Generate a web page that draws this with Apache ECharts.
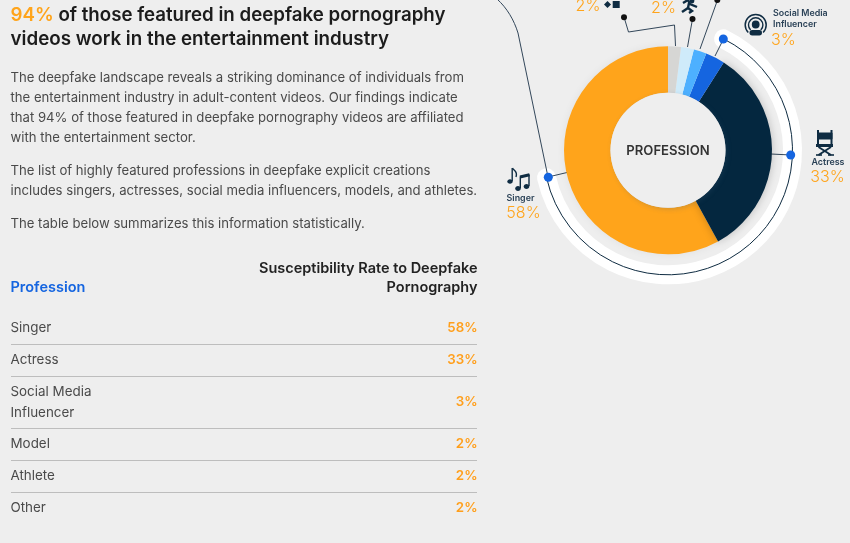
<!DOCTYPE html>
<html><head><meta charset="utf-8">
<style>html,body{margin:0;padding:0;background:#eeeeee}#c{width:850px;height:543px}</style>
<script src="https://cdn.jsdelivr.net/npm/echarts@6/dist/echarts.min.js"></script>
</head><body><div id="c"></div>
<script>
const professions = ['Singer','Actress','Social Media Influencer','Model','Athlete','Other'];
const rates = [58,33,3,2,2,2];
const sliceColors = ['#FFA41B','#04273F','#1565E0','#4DB0FF','#CFEBFA','#D6D6D4'];
const sliceShadow = ['rgba(0,0,0,.06)','rgba(0,0,0,.22)','rgba(0,0,0,0)','rgba(0,0,0,0)','rgba(0,0,0,0)','rgba(0,0,0,0)'];
const tableNames = [['Singer'],['Actress'],['Social Media','Influencer'],['Model'],['Athlete'],['Other']];
const tableY = [328,360,402,444,476,508];
const ruleY = [344,376,428,460,492];
const bodyLines = [
 ['The deepfake landscape reveals a striking dominance of individuals from',78],
 ['the entertainment industry in adult-content videos. Our findings indicate',98],
 ['that 94% of those featured in deepfake pornography videos are affiliated',118],
 ['with the entertainment sector.',138],
 ['The list of highly featured professions in deepfake explicit creations',171],
 ['includes singers, actresses, social media influencers, models, and athletes.',191],
 ['The table below summarizes this information statistically.',224]];
const FONT='Inter';
const ORANGE='#FFA41B', NAVY='#0F2C42', BLUE='#1565E0';
const cx=668, cy=150.3;
const rad=d=>d*Math.PI/180;
function T(x,y,text,size,color,weight,align){return {type:'text',x,y,silent:true,style:{text,fontFamily:FONT,fontSize:size,fill:color,fontWeight:weight||400,align:align||'left',verticalAlign:'middle'}};}
function L(pts,color,w){return {type:'polyline',silent:true,shape:{points:pts},style:{stroke:color||'#33475a',lineWidth:w||1,fill:null}};}
function Dot(x,y,r,c){return {type:'circle',silent:true,shape:{cx:x,cy:y,r},style:{fill:c}};}
function Arc(x,y,r,a,b,w,c,cap){return {type:'arc',silent:true,shape:{cx:x,cy:y,r,startAngle:rad(a),endAngle:rad(b),clockwise:true},style:{stroke:c,lineWidth:w,lineCap:cap||'butt',fill:null}};}
const g=[];
g.push(Arc(cx,cy,124.5,-63.5,167.3,19,'#fff','round'));
g.push(Arc(cx,cy,124.5,-63.5,167.3,1,NAVY));
// text block
g.push({type:'text',x:10.5,y:15,silent:true,style:{text:'{a|94%}{b| of those featured in deepfake pornography}',rich:{a:{fontFamily:FONT,fontSize:18.7,fontWeight:600,fill:ORANGE},b:{fontFamily:FONT,fontSize:18.7,fontWeight:600,fill:'#1c1c1c'}},verticalAlign:'middle'}});
g.push(T(10.5,39,'videos work in the entertainment industry',18.8,'#1c1c1c',600));
bodyLines.forEach(l=>g.push(T(10.5,l[1],l[0],13.15,'#4a4a4a')));
g.push(T(477.5,269,'Susceptibility Rate to Deepfake',14.5,'#222',600,'right'));
g.push(T(477.5,288,'Pornography',14.5,'#222',600,'right'));
g.push(T(10.5,288,'Profession',14.5,BLUE,600));
professions.forEach((p,i)=>{
  const n=tableNames[i];
  n.forEach((s,k)=>g.push(T(10.5,tableY[i]+(n.length>1?(k?10.5:-10):0),s,13.4,'#4a4a4a')));
  g.push(T(477.5,tableY[i],rates[i]+'%',13.3,'#FF9F1C',600,'right'));
});
ruleY.forEach(y=>g.push(L([[11,y+0.5],[477,y+0.5]],'#bdbdbd',1)));
// centre disc
g.push({z:5,type:'circle',silent:true,shape:{cx,cy,r:57.5},style:{fill:'#eeeeee',shadowBlur:5,shadowColor:'rgba(60,90,120,.22)',shadowOffsetX:1.5,shadowOffsetY:1.5}});
g.push({type:'text',z:6,x:cx,y:cy+1,silent:true,style:{text:'PROFESSION',fontFamily:FONT,fontSize:13.1,fontWeight:600,fill:'#333',align:'center',verticalAlign:'middle'}});
// leaders
g.push(L([[624,17],[628.5,32],[674.5,25],[675.5,46]]));
g.push(L([[692.5,19],[687.5,47]]));
g.push(L([[717.5,0],[700,49]]));
g.push(L([[723.5,39],[715,56]]));
g.push(L([[771,154],[791,155]]));
g.push(L([[567,172.5],[548,177]]));
g.push({type:'bezierCurve',silent:true,shape:{x1:497,y1:-1,cpx1:507,cpy1:8,cpx2:514,cpy2:20,x2:518,y2:33},style:{stroke:'#33475a',lineWidth:1,fill:null}});
g.push(L([[518,33],[548,177]]));
g.push(Dot(624,17.3,3,'#111'),Dot(692.5,19,3,'#111'),Dot(717.3,0,3,'#111'));
g.push(Dot(723.3,39,4.5,BLUE),Dot(790.7,155,4.5,BLUE),Dot(548.3,177.3,4.5,BLUE));
// labels
g.push(T(588,6,'2%',16,ORANGE,300,'center'));
g.push(T(663.5,8,'2%',16,ORANGE,300,'center'));
g.push(T(773,13.5,'Social Media',8.9,'#2b4257',600));
g.push(T(773,24,'Influencer',8.9,'#2b4257',600));
g.push(T(771,40.5,'3%',16,ORANGE,300));
g.push(T(828,162.5,'Actress',8.9,'#2b4257',600,'center'));
g.push(T(827.5,177.5,'33%',16,ORANGE,300,'center'));
g.push(T(520.5,198.5,'Singer',8.9,'#2b4257',600,'center'));
g.push(T(523.5,213.5,'58%',16,ORANGE,300,'center'));
// icons: other (diamond + square)
g.push({type:'polygon',silent:true,shape:{points:[[604,4.5],[607.5,1],[611,4.5],[607.5,8]]},style:{fill:NAVY}});
g.push({type:'rect',silent:true,shape:{x:612.7,y:1,width:7,height:7},style:{fill:NAVY}});
// runner
g.push(Dot(692,1,2.4,NAVY));
g.push(L([[683,3],[688,0],[690,4],[697,7]],NAVY,2.4));
g.push(L([[689,3],[688,8],[692,11],[689,13]],NAVY,2.4));
g.push(L([[688,8],[682,12]],NAVY,2.4));
// influencer
g.push(Arc(755.7,25,10.5,135,405,1.5,NAVY));
g.push(Arc(755.7,25,7.2,135,405,1.4,NAVY));
g.push(Dot(755.7,24.5,3.9,NAVY));
g.push({type:'rect',silent:true,shape:{x:749.5,y:30,width:12.5,height:5.5,r:2.7},style:{fill:NAVY}});
// chair
g.push({type:'rect',silent:true,shape:{x:817,y:132.5,width:15.5,height:7,r:1},style:{fill:NAVY}});
g.push(L([[818,130],[818,146]],NAVY,2));g.push(L([[831.5,130],[831.5,146]],NAVY,2));
g.push({type:'rect',silent:true,shape:{x:816,y:144,width:17,height:3},style:{fill:NAVY}});
g.push(L([[818.5,147],[831,155]],NAVY,2));g.push(L([[831,147],[818.5,155]],NAVY,2));
g.push(L([[816,155],[822,155]],NAVY,1.6));g.push(L([[828,155],[834,155]],NAVY,1.6));
// notes
g.push({type:'ellipse',silent:true,shape:{cx:510,cy:181.5,rx:2.7,ry:2.3},style:{fill:NAVY}});
g.push(L([[512.2,181],[512.2,168]],NAVY,1.4));
g.push({type:'bezierCurve',silent:true,shape:{x1:512.5,y1:168,cpx1:514,cpy1:171,cpx2:518,cpy2:171,x2:516,y2:177},style:{stroke:NAVY,lineWidth:1.4,fill:null}});
g.push({type:'ellipse',silent:true,shape:{cx:518,cy:188.5,rx:2.8,ry:2.4},style:{fill:NAVY}});
g.push({type:'ellipse',silent:true,shape:{cx:526.5,cy:186.5,rx:2.8,ry:2.4},style:{fill:NAVY}});
g.push(L([[520.3,188],[520.3,176.5]],NAVY,1.4));g.push(L([[529,186],[529,174.5]],NAVY,1.4));
g.push(L([[520,177],[529.5,174.8]],NAVY,3));
const chart=echarts.init(document.getElementById('c'),null,{renderer:'canvas'});
chart.setOption({
  backgroundColor:'#eeeeee',animation:false,
  graphic:{elements:g},
  series:[{type:'pie',center:[cx,cy],radius:[57.5,104],startAngle:90,clockwise:false,silent:true,z:3,
    label:{show:false},labelLine:{show:false},
    data:professions.map((p,i)=>({name:p,value:rates[i],itemStyle:{color:sliceColors[i],shadowBlur:9,shadowColor:sliceShadow[i]}}))}]
});
</script></body></html>
